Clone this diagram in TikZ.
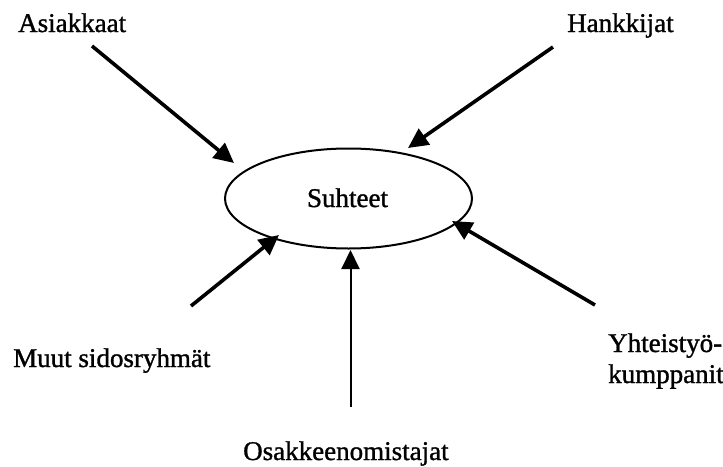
\documentclass[tikz,border=0pt]{standalone}
\usepackage{fontspec}
\setmainfont{Liberation Serif}
\newfontfamily\labelfont[FakeBold=1.2]{Liberation Serif}
\usetikzlibrary{arrows.meta,shapes.geometric}

\tikzset{
  lbl/.style={inner sep=0pt, font=\labelfont\fontsize{27}{31}\selectfont},
  hub/.style={draw, ellipse, line width=2pt, minimum width=247pt, minimum height=100pt, inner sep=0pt},
  thick arrow/.style={line width=3.6pt, -{Triangle[length=20pt,width=19pt]}},
  thin arrow/.style={line width=2pt, -{Triangle[length=19pt,width=18pt]}}
}

\begin{document}
\begin{tikzpicture}[x=1pt,y=-1pt]
  \useasboundingbox (0,0) rectangle (723,466);

  % central relationship ellipse
  \node[hub] (ell) at (348.5,198.5) {};
  \node[lbl, anchor=base] (suhteet) at (347.5,207) {Suhteet};

  % stakeholder labels
  \node[lbl, anchor=base west] (asiakkaat) at (18,32) {Asiakkaat};
  \node[lbl, anchor=base west] (hankkijat) at (567,32) {Hankkijat};
  \node[lbl, anchor=base west] (muut) at (13,367) {Muut sidosryhmät};
  \node[lbl, anchor=base west] (osakk) at (243,460) {Osakkeenomistajat};
  \node[lbl, anchor=base west, align=left] (yhteis) at (608,383) {Yhteistyö-\\kumppanit};

  % arrow ends
  \coordinate (a0) at (92,46);   \coordinate (a1) at (234,163);
  \coordinate (h0) at (553,47);  \coordinate (h1) at (408,148);
  \coordinate (m0) at (191,306); \coordinate (m1) at (279,235);
  \coordinate (o0) at (350.5,407); \coordinate (o1) at (350.5,250);
  \coordinate (y0) at (595,305); \coordinate (y1) at (452,221);

  % arrows into the relationships
  \draw[thick arrow] (a0) -- (a1);
  \draw[thick arrow] (h0) -- (h1);
  \draw[thick arrow] (m0) -- (m1);
  \draw[thin arrow]  (o0) -- (o1);
  \draw[thick arrow] (y0) -- (y1);
\end{tikzpicture}
\end{document}
